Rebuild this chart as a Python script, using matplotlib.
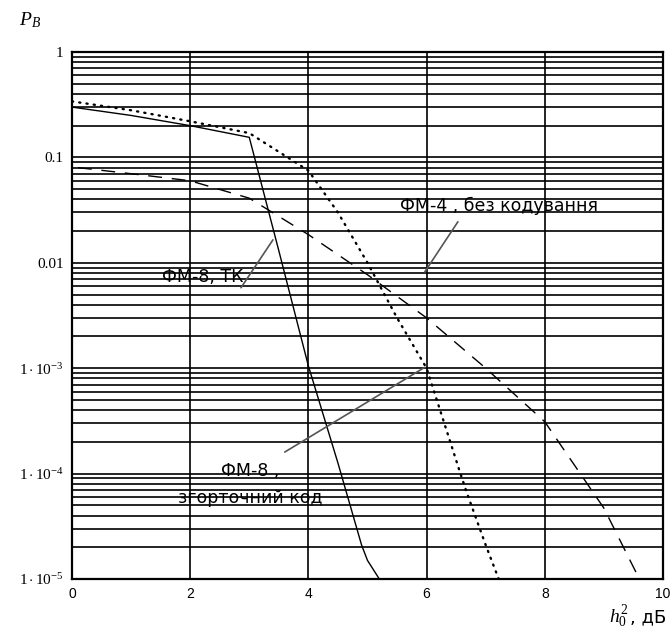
import numpy as np
import matplotlib.pyplot as plt
from matplotlib.ticker import FixedLocator, NullFormatter

# ФМ-8, ТК (суцільна)
x_tk = [0, 1, 2, 3, 3.5, 4, 4.5, 4.9, 5.0, 5.2]
p_tk = [0.30, 0.25, 0.20, 0.155, 0.013, 1.05e-3, 1.26e-4, 2.1e-5, 1.5e-5, 1.0e-5]

# ФМ-8, згорточний код (пунктир)
x_conv = [0, 1, 2, 3, 4, 4.5, 5, 5.5, 6, 6.35, 6.56, 6.68, 7.0, 7.22]
p_conv = [0.34, 0.28, 0.22, 0.17, 0.075, 0.03, 0.01, 3.0e-3, 1.0e-3, 2.45e-4, 1.05e-4, 6.6e-5, 2.1e-5, 1.0e-5]

# ФМ-4, без кодування (штрих)
x_bpsk = [0.1, 1, 2, 3, 4, 5, 6, 7, 8, 9, 9.6]
p_bpsk = [0.08, 0.07, 0.06, 0.041, 0.0185, 7.7e-3, 3.0e-3, 1.0e-3, 3.1e-4, 4.7e-5, 1.0e-5]

x_ticks = [0, 2, 4, 6, 8, 10]
y_ticks = [1, 0.1, 0.01, 1e-3, 1e-4, 1e-5]
y_labels = ["1", "0.1", "0.01", r"$1\cdot10^{-3}$", r"$1\cdot10^{-4}$", r"$1\cdot10^{-5}$"]

plt.rcParams["mathtext.fontset"] = "custom"
plt.rcParams["mathtext.rm"] = "Liberation Serif"
plt.rcParams["mathtext.it"] = "Liberation Serif:italic"

fig = plt.figure(figsize=(6.72, 6.34), dpi=100)
ax = fig.add_axes([0.1071, 0.0868, 0.8795, 0.8312])

ax.set_yscale("log")
ax.set_xlim(0, 10)
ax.set_ylim(1e-5, 1)

# сітка
minor = [m * 10.0 ** e for e in range(-5, 0) for m in range(2, 10)]
ax.yaxis.set_minor_locator(FixedLocator(minor))
ax.yaxis.set_minor_formatter(NullFormatter())
ax.set_yticks(y_ticks)
ax.set_yticklabels(y_labels, fontfamily="Liberation Serif", fontsize=11)
ax.set_xticks(x_ticks)
ax.set_xticklabels([str(v) for v in x_ticks], fontfamily="Liberation Sans", fontsize=10)
ax.grid(True, which="both", axis="y", color="black", lw=1.2)
ax.grid(True, which="major", axis="x", color="black", lw=1.2)
ax.tick_params(which="both", length=0, pad=6)
for s in ax.spines.values():
    s.set_linewidth(1.6)

ax.plot(x_tk, p_tk, color="black", lw=1.0)
ax.plot(x_conv, p_conv, color="black", lw=1.7, linestyle=(0, (0.5, 2.6)), dash_capstyle="round")
ax.plot(x_bpsk, p_bpsk, color="black", lw=1.0, linestyle=(0, (10, 7)))

txt = dict(fontfamily="DejaVu Sans", fontsize=12.5, ha="center", va="center")
lead = dict(arrowstyle="-", color="#555555", lw=1.2, shrinkA=0, shrinkB=0)

ax.annotate("", xy=(3.40, 0.0165), xytext=(2.86, 5.8e-3), arrowprops=lead)
ax.text(2.22, 7.3e-3, "ФМ-8, ТК", **txt)

ax.annotate("", xy=(5.97, 8.2e-3), xytext=(6.53, 0.0245), arrowprops=lead)
ax.text(7.22, 0.035, "ФМ-4 , без кодування", **txt)

ax.annotate("", xy=(5.97, 1.02e-3), xytext=(3.6, 1.6e-4), arrowprops=lead)
ax.text(3.01, 1.05e-4, "ФМ-8 ,", **txt)
ax.text(3.01, 5.9e-5, "згорточний код", **txt)

fig.text(0.045, 0.968, r"$P_{\mathit{B}}$", fontsize=14, ha="center", va="center")
fig.text(0.935, 0.018, r"$h_0^2$", fontsize=14, ha="right", va="baseline")
fig.text(0.937, 0.018, ", дБ", fontfamily="DejaVu Sans", fontsize=13, ha="left", va="baseline")

fig.savefig("out.png", dpi=100, facecolor="white")
